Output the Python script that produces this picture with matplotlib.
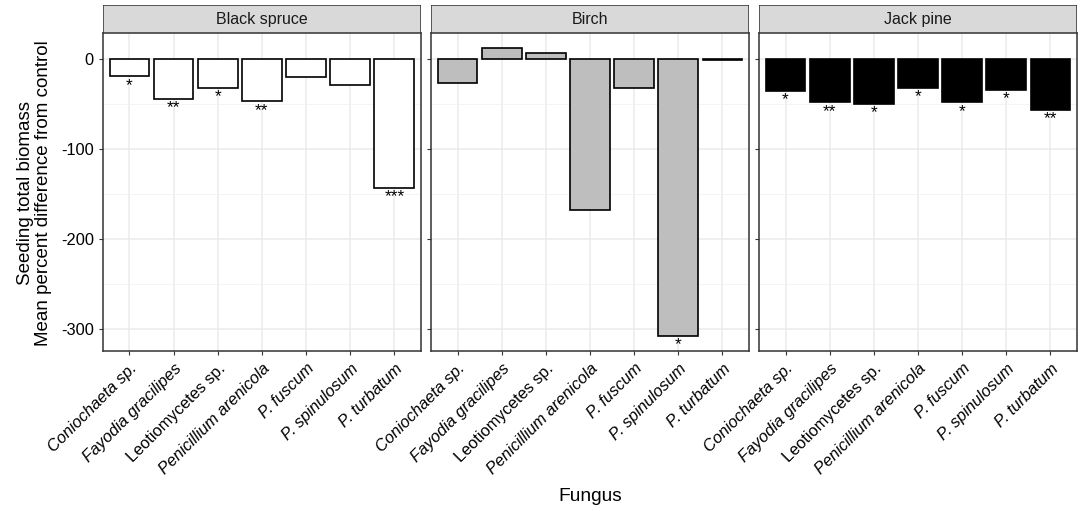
import matplotlib.pyplot as plt
from matplotlib.patches import Rectangle
from matplotlib.ticker import MultipleLocator

plt.rcParams['font.family'] = ['Liberation Sans', 'DejaVu Sans']
plt.rcParams['axes.unicode_minus'] = False

fungi = ['Coniochaeta sp.', 'Fayodia gracilipes', 'Leotiomycetes sp.',
         'Penicillium arenicola', 'P. fuscum', 'P. spinulosum', 'P. turbatum']
italic = [True, True, False, True, True, True, True]

hosts = ['Black spruce', 'Birch', 'Jack pine']
fills = ['white', '#BEBEBE', 'black']

spruce = [-19, -44, -32, -47, -20, -29, -143]
birch = [-27, 13, 7, -168, -32, -308, -0.5]
pine = [-35, -48, -50, -32, -48, -34, -56]

spruce_sig = ['*', '**', '*', '**', '', '', '***']
birch_sig = ['', '', '', '', '', '*', '']
pine_sig = ['*', '**', '*', '*', '*', '*', '**']

values = [spruce, birch, pine]
stars = [spruce_sig, birch_sig, pine_sig]

fig, axes = plt.subplots(1, 3, figsize=(10.84, 5.11), dpi=100, sharey=True)
fig.subplots_adjust(left=0.095, right=0.9935, bottom=0.313, top=0.935, wspace=0.032)

x = list(range(len(fungi)))
for ax, host, vals, sig, fill in zip(axes, hosts, values, stars, fills):
    ax.bar(x, vals, width=0.9, color=fill, edgecolor='black', linewidth=1.2, zorder=3)
    # significance stars under each bar
    for xi, v, s in zip(x, vals, sig):
        if s:
            ax.annotate(s, (xi, min(v, 0)), xytext=(0, -1), textcoords='offset points',
                        ha='center', va='top', fontsize=12.5, zorder=4)
    ax.set_xlim(-0.6, 6.6)
    ax.set_ylim(-325, 29)
    ax.yaxis.set_major_locator(MultipleLocator(100))
    ax.yaxis.set_minor_locator(MultipleLocator(50))
    ax.grid(True, which='major', color='#EBEBEB', linewidth=1.1, zorder=0)
    ax.grid(True, which='minor', axis='y', color='#F2F2F2', linewidth=0.6, zorder=0)
    ax.set_xticks(x)
    ax.set_xticklabels(fungi, rotation=45, ha='right', rotation_mode='anchor', fontsize=11.8)
    for lab, it in zip(ax.get_xticklabels(), italic):
        lab.set_fontstyle('italic' if it else 'normal')
    ax.tick_params(axis='both', which='major', length=3, color='#333333', labelsize=11.8)
    ax.tick_params(axis='x', pad=4)
    ax.tick_params(axis='y', which='minor', length=0)
    for sp in ax.spines.values():
        sp.set_color('#333333')
        sp.set_linewidth(1.1)

    # facet strip
    pos = ax.get_position()
    sax = fig.add_axes([pos.x0, pos.y1, pos.width, 0.055])
    sax.add_patch(Rectangle((0, 0), 1, 1, transform=sax.transAxes, facecolor='#D9D9D9',
                            edgecolor='#333333', linewidth=1.1))
    sax.text(0.5, 0.5, host, ha='center', va='center', fontsize=11.5, color='#1A1A1A')
    sax.set_axis_off()

fig.text(0.032, 0.622, 'Seeding total biomass\nMean percent difference from control',
         rotation=90, ha='center', va='center', fontsize=13.5, linespacing=1.05)
fig.text(0.5 * (0.095 + 0.9935), 0.028, 'Fungus', ha='center', va='center', fontsize=13.8)

fig.savefig('out.png', dpi=100)
